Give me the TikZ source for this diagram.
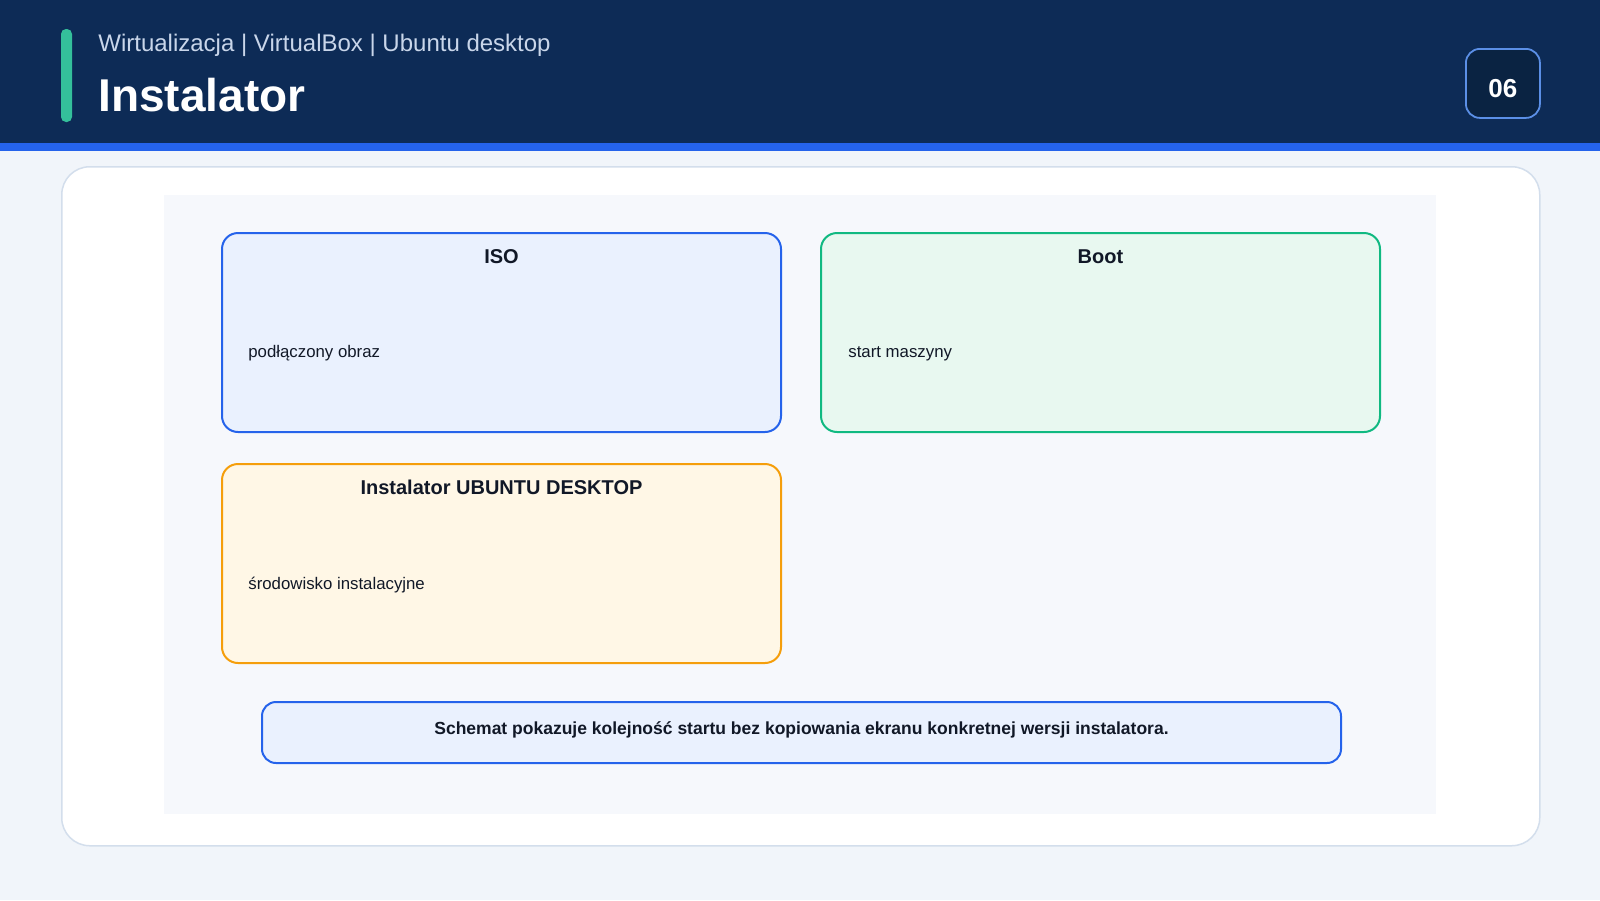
\documentclass[tikz,border=0pt]{standalone}
\usepackage{fontspec}
\setmainfont{Liberation Sans}
\definecolor{pagebg}{HTML}{F1F5FA}
\definecolor{navy}{HTML}{0D2B56}
\definecolor{navydark}{HTML}{0A2342}
\definecolor{stripe}{HTML}{2563EB}
\definecolor{accent}{HTML}{34C09B}
\definecolor{subtxt}{HTML}{C9D6EA}
\definecolor{badgeline}{HTML}{5B8FE6}
\definecolor{cardline}{HTML}{D3DEEC}
\definecolor{panel}{HTML}{F6F8FC}
\definecolor{bluefill}{HTML}{EAF1FE}
\definecolor{blueline}{HTML}{2563EB}
\definecolor{greenfill}{HTML}{E8F8F0}
\definecolor{greenline}{HTML}{10B981}
\definecolor{orangefill}{HTML}{FFF7E6}
\definecolor{orangeline}{HTML}{F59E0B}
\definecolor{ink}{HTML}{111827}
\begin{document}
\begin{tikzpicture}[x=0.5pt,y=-0.5pt,
  box/.style={draw, line width=1pt, rounded corners=8pt, anchor=north west, inner sep=0pt},
  boxtitle/.style={anchor=base, font=\fontsize{10pt}{12pt}\selectfont\bfseries, text=ink, inner sep=0pt},
  boxbody/.style={anchor=base west, font=\fontsize{8.4pt}{10pt}\selectfont, text=ink, inner sep=0pt}]
\useasboundingbox (0,0) rectangle (1600,900);
\fill[pagebg] (0,0) rectangle (1600,900);
% header
\fill[navy] (0,0) rectangle (1600,143);
\fill[stripe] (0,143) rectangle (1600,150.5);
\fill[accent, rounded corners=2.5pt] (61,29) rectangle (72,122);
\node[anchor=base west, inner sep=0pt, text=subtxt, font=\fontsize{12pt}{14pt}\selectfont] (sub) at (98,51) {Wirtualizacja | VirtualBox | Ubuntu desktop};
\node[anchor=base west, inner sep=0pt, text=white, font=\fontsize{23pt}{26pt}\selectfont\bfseries] (title) at (98,111) {Instalator};
\node[draw=badgeline, fill=navydark, line width=0.9pt, rounded corners=7pt, anchor=north west, minimum width=37pt, minimum height=34.5pt, inner sep=0pt] (badge) at (1465,48) {};
\node[anchor=base, inner sep=0pt, text=white, font=\fontsize{13pt}{15pt}\selectfont\bfseries] (badgenum) at (badge.center |- 0,97) {06};
% card
\node[draw=cardline, fill=white, line width=0.75pt, rounded corners=14pt, anchor=north west, minimum width=739pt, minimum height=339.5pt, inner sep=0pt] (card) at (61,166) {};
\node[fill=panel, anchor=north west, minimum width=636pt, minimum height=309.5pt, inner sep=0pt] (panel) at (164,195) {};
% boxes
\node[box, draw=blueline, fill=bluefill, minimum width=279.5pt, minimum height=99.5pt] (iso) at (221,232) {};
\node[boxtitle] (isot) at (iso.center |- 0,263) {ISO};
\node[boxbody] (isob) at (248,357) {podłączony obraz};
\node[box, draw=greenline, fill=greenfill, minimum width=279.5pt, minimum height=99.5pt] (boot) at (820,232) {};
\node[boxtitle] (boott) at (boot.center |- 0,263) {Boot};
\node[boxbody] (bootb) at (848,357) {start maszyny};
\node[box, draw=orangeline, fill=orangefill, minimum width=279.5pt, minimum height=99.5pt] (inst) at (221,463) {};
\node[boxtitle] (instt) at (inst.center |- 0,494) {Instalator UBUNTU DESKTOP};
\node[boxbody] (instb) at (248,589) {środowisko instalacyjne};
% note
\node[box, draw=blueline, fill=bluefill, rounded corners=7pt, minimum width=539.5pt, minimum height=30.5pt] (note) at (261,701) {};
\node[anchor=base, inner sep=0pt, text=ink, font=\fontsize{8.75pt}{10pt}\selectfont\bfseries] (notet) at (note.center |- 0,734) {Schemat pokazuje kolejność startu bez kopiowania ekranu konkretnej wersji instalatora.};
\end{tikzpicture}
\end{document}
